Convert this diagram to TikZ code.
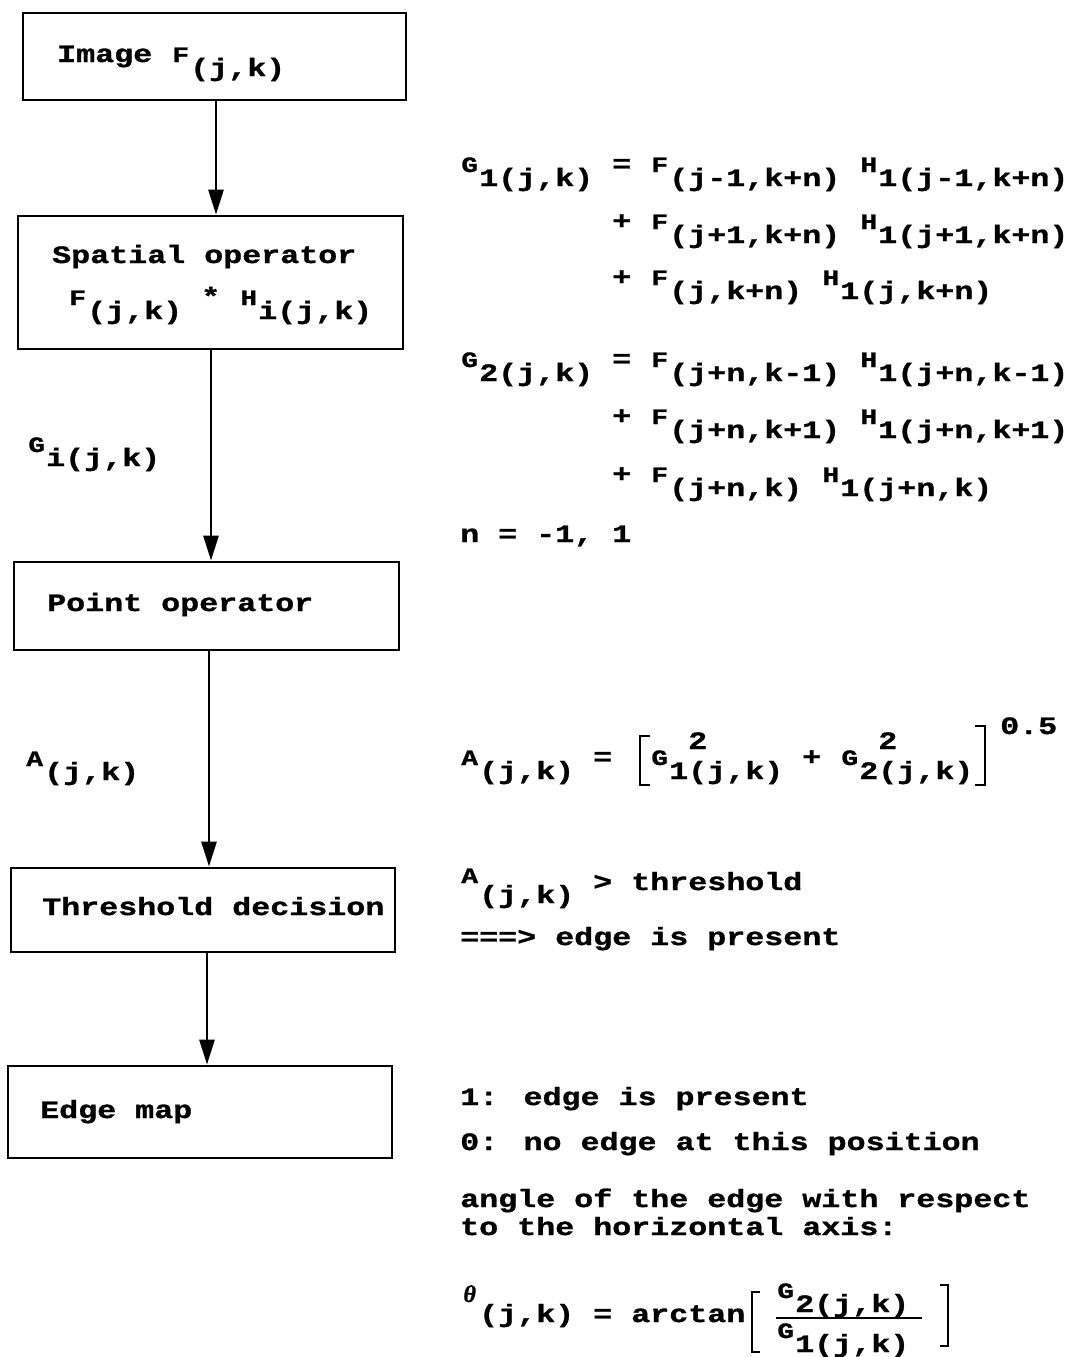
\documentclass[tikz,border=0pt]{standalone}
\usepackage{fontspec}
\usetikzlibrary{arrows.meta}
% typewriter face, widened to the 19pt pitch of the original typescript
\newfontfamily\tw{Liberation Mono}[FakeStretch=1.267,FakeBold=1.2]
\newfontfamily\thf{Liberation Serif}[FakeBold=1.2]
% a raised letter followed by its lowered index, typewriter style
\newcommand\mainlt[1]{\makebox[19pt][c]{\fontsize{22}{22}\selectfont #1}}
\newcommand\ix[2]{\mainlt{#1}\raisebox{-14pt}{#2}}
\newcommand\sqr{\rlap{\raisebox{30pt}{2}}}

\begin{document}
\begin{tikzpicture}[x=1pt,y=-1pt,
  txt/.style={anchor=base west, inner sep=0pt, font={\tw\bfseries\fontsize{25}{30}\selectfont}},
  box/.style={draw, line width=2.8pt, inner sep=0pt},
  arr/.style={line width=2.8pt, -{Triangle[length=25pt,width=15pt]}},
  brk/.style={line width=2.6pt}]
\fill[white] (0,0) rectangle (1079,1357);
\useasboundingbox (0,0) rectangle (1079,1357);

% processing chain
\node[box, minimum width=383pt, minimum height=87pt]  (b1) at (214.5,56.5) {};
\node[box, minimum width=385pt, minimum height=133pt] (b2) at (210.5,282.5) {};
\node[box, minimum width=385pt, minimum height=88pt]  (b3) at (206.5,606) {};
\node[box, minimum width=384pt, minimum height=84pt]  (b4) at (203,910) {};
\node[box, minimum width=384pt, minimum height=92pt]  (b5) at (200,1112) {};

\node[txt] (t1)  at (57,62)   {Image \ix{F}{(j,k)}};
\node[txt] (t2a) at (52,263)  {Spatial operator};
\node[txt] (t2b) at (68,305)  {\ix{F}{(j,k)} * \ix{H}{i(j,k)}};
\node[txt] (t3)  at (47,611)  {Point operator};
\node[txt] (t4)  at (42,915)  {Threshold decision};
\node[txt] (t5)  at (40,1118) {Edge map};

\draw[arr] ([xshift=1.5pt]b1.south) -- ([xshift=1.5pt]b1.south |- b2.north);
\draw[arr] ([xshift=0.5pt]b2.south) -- ([xshift=0.5pt]b2.south |- b3.north);
\draw[arr] ([xshift=2.5pt]b3.south) -- ([xshift=2.5pt]b3.south |- b4.north);
\draw[arr] ([xshift=4pt]b4.south)   -- ([xshift=4pt]b4.south |- b5.north);

% signals on the connectors
\node[txt] (lg) at (27,452) {\ix{G}{i(j,k)}};
\node[txt] (la) at (25,766) {\ix{A}{(j,k)}};

% spatial operator equations
\node[txt] (r1) at (460,172) {\ix{G}{1(j,k)} = \ix{F}{(j-1,k+n)} \ix{H}{1(j-1,k+n)}};
\node[txt] (r2) at (612,229) {+ \ix{F}{(j+1,k+n)} \ix{H}{1(j+1,k+n)}};
\node[txt] (r3) at (612,285) {+ \ix{F}{(j,k+n)} \ix{H}{1(j,k+n)}};
\node[txt] (r4) at (460,367) {\ix{G}{2(j,k)} = \ix{F}{(j+n,k-1)} \ix{H}{1(j+n,k-1)}};
\node[txt] (r5) at (612,424) {+ \ix{F}{(j+n,k+1)} \ix{H}{1(j+n,k+1)}};
\node[txt] (r6) at (612,482) {+ \ix{F}{(j+n,k)} \ix{H}{1(j+n,k)}};
\node[txt] (r7) at (460,542) {n = -1, 1};

% gradient magnitude
\node[txt] (am) at (460,765) {\ix{A}{(j,k)} =};
\node[txt] (ag) at (650,765) {\ix{G}{1\sqr(j,k)} + \ix{G}{2\sqr(j,k)}};
\node[txt] (ae) at (1000,734) {0.5};
\draw[brk] (650,736) -- (640,736) -- (640,785) -- (650,785);
\draw[brk] (975,726) -- (985,726) -- (985,785) -- (975,785);

% threshold decision
\node[txt] (th) at (460,890) {\raisebox{7pt}{\mainlt{A}}\raisebox{-13pt}{(j,k)} > threshold};
\node[txt] (tp) at (460,945) {===> edge is present};

% edge map legend
\node[txt] (e1) at (460,1105) {1: edge is present};
\node[txt] (e0) at (460,1150) {0: no edge at this position};
\node[txt] (ea) at (460,1207) {angle of the edge with respect};
\node[txt] (eb) at (460,1235) {to the horizontal axis:};

% edge direction
\node[txt] (ta) at (460,1322) {\raisebox{20pt}{\makebox[19pt][c]{\thf\itshape\fontsize{24}{24}\selectfont θ}}(j,k) = arctan};
\node[txt] (fn) at (776,1298) {\ix{G}{2(j,k)}};
\node[txt] (fd) at (776,1338) {\ix{G}{1(j,k)}};
\draw[line width=2pt] (776,1318) -- (922,1318);
\draw[brk] (760,1292) -- (752,1292) -- (752,1352) -- (760,1352);
\draw[brk] (940,1285) -- (948,1285) -- (948,1346) -- (940,1346);
\end{tikzpicture}
\end{document}
